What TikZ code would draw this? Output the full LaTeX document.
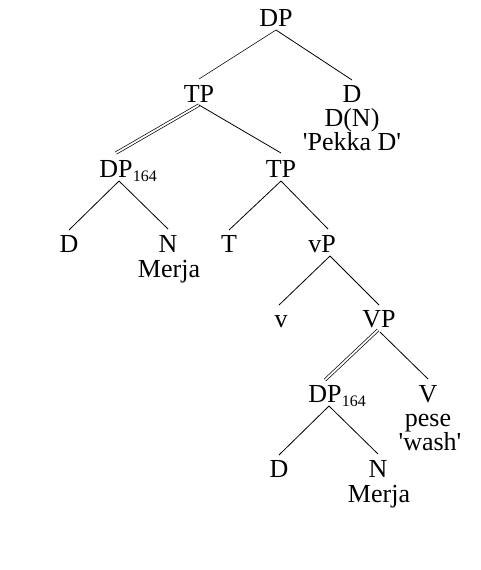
\documentclass[tikz,border=0pt]{standalone}
\usepackage{fontspec}
\setmainfont{Liberation Serif}
\newcommand{\subidx}[1]{\rlap{\kern0.3pt\raisebox{-4.5pt}{\fontsize{16}{16}\selectfont #1}}}
\begin{document}
\begin{tikzpicture}[x=1pt,y=-1pt,
  lab/.style={anchor=base,inner sep=0pt,font=\fontsize{26}{24}\selectfont},
  edge/.style={line width=0.8pt},
  thinedge/.style={line width=0.55pt},
  dbl/.style={double,double distance=1.8pt,line width=0.7pt}]
\useasboundingbox (0,0) rectangle (480,570);
% nodes
\node[lab] (dp)  at (276,27)  {DP};
\node[lab] (tp)  at (199,102) {TP};
\node[lab] (d1)  at (352,102) {D};
\node[lab] (d1a) at (352,126) {D(N)};
\node[lab] (d1b) at (352,150) {\textquotesingle Pekka D\textquotesingle};
\node[lab] (dpa) at (116,177) {DP\subidx{164}};
\node[lab] (tp2) at (281,177) {TP};
\node[lab] (da)  at (69,252)  {D};
\node[lab] (na)  at (168,252) {N};
\node[lab] (ma)  at (169,277) {Merja};
\node[lab] (t)   at (229,252) {T};
\node[lab] (vp)  at (322,252) {vP};
\node[lab] (v)   at (281,327) {v};
\node[lab] (VP)  at (379,327) {VP};
\node[lab] (dpb) at (325,402) {DP\subidx{164}};
\node[lab] (V)   at (428,402) {V};
\node[lab] (pese) at (428,426) {pese};
\node[lab] (wash) at (430,450) {\textquotesingle wash\textquotesingle};
\node[lab] (db)  at (279,477) {D};
\node[lab] (nb)  at (378,477) {N};
\node[lab] (mb)  at (379,502) {Merja};
% connectors
\draw[thinedge] ([yshift=-3pt]dp.base) -- ([yshift=23pt]tp.base);
\draw[edge] ([yshift=-3pt]dp.base) -- ([yshift=22pt]d1.base);
\draw[dbl] ([yshift=-3pt]tp.base) -- ([yshift=24pt]dpa.base);
\draw[edge] ([yshift=-3pt]tp.base) -- ([yshift=24pt]tp2.base);
\draw[edge] ([xshift=3pt,yshift=-4pt]dpa.base) -- ([yshift=22pt]da.base);
\draw[edge] ([xshift=3pt,yshift=-4pt]dpa.base) -- ([yshift=23pt]na.base);
\draw[edge] ([yshift=-4pt]tp2.base) -- ([yshift=22pt]t.base);
\draw[edge] ([yshift=-4pt]tp2.base) -- ([xshift=6pt,yshift=23pt]vp.base);
\draw[edge] ([xshift=8pt,yshift=-4pt]vp.base) -- ([xshift=-2pt,yshift=22pt]v.base);
\draw[edge] ([xshift=8pt,yshift=-4pt]vp.base) -- ([yshift=22pt]VP.base);
\draw[dbl] ([xshift=-1pt,yshift=-3pt]VP.base) -- ([yshift=22pt]dpb.base);
\draw[edge] ([xshift=1pt,yshift=-5pt]VP.base) -- ([yshift=23pt]V.base);
\draw[edge] ([xshift=4pt,yshift=-4pt]dpb.base) -- ([yshift=22pt]db.base);
\draw[edge] ([xshift=4pt,yshift=-4pt]dpb.base) -- ([yshift=23pt]nb.base);
\end{tikzpicture}
\end{document}
